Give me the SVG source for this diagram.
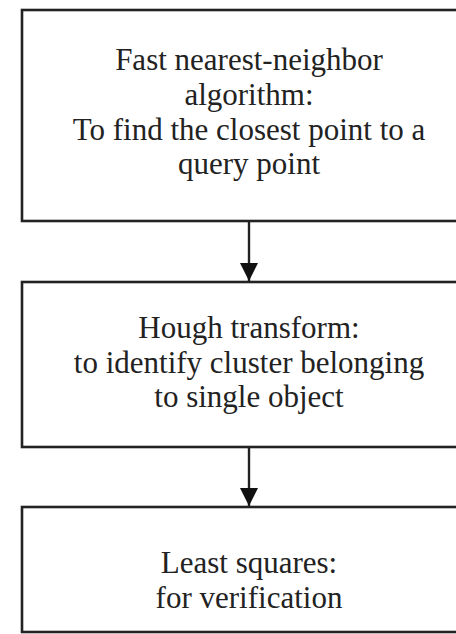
<svg xmlns="http://www.w3.org/2000/svg" width="456" height="634" viewBox="0 0 456 634">
<style>
.box{fill:#fff;stroke:#222;stroke-width:2.6}
.t{font-family:"Liberation Serif","Times New Roman",serif;font-size:31px;fill:#222;text-anchor:middle}
.c{stroke:#222;stroke-width:2.4;fill:none}
</style>
<defs>
<marker id="ah" markerUnits="userSpaceOnUse" markerWidth="20" markerHeight="20" refX="18" refY="9" orient="auto">
<path d="M0,0 L18,9 L0,18 Z" fill="#111"/>
</marker>
</defs>
<rect width="456" height="634" fill="#fff"/>
<g id="node1">
<rect class="box" x="22" y="10" width="456" height="211"/>
<text class="t" x="249" y="70">Fast nearest-neighbor</text>
<text class="t" x="249" y="105">algorithm:</text>
<text class="t" x="249" y="140">To find the closest point to a</text>
<text class="t" x="249" y="174">query point</text>
</g>
<g id="node2">
<rect class="box" x="22" y="282" width="456" height="165"/>
<text class="t" x="249" y="338">Hough transform:</text>
<text class="t" x="249" y="373">to identify cluster belonging</text>
<text class="t" x="249" y="407">to single object</text>
</g>
<g id="node3">
<rect class="box" x="22" y="507" width="456" height="125"/>
<text class="t" x="249" y="573">Least squares:</text>
<text class="t" x="249" y="608">for verification</text>
</g>
<g id="connectors">
<line class="c" x1="249" y1="221" x2="249" y2="281" marker-end="url(#ah)"/>
<line class="c" x1="249" y1="447" x2="249" y2="506" marker-end="url(#ah)"/>
</g>
</svg>
